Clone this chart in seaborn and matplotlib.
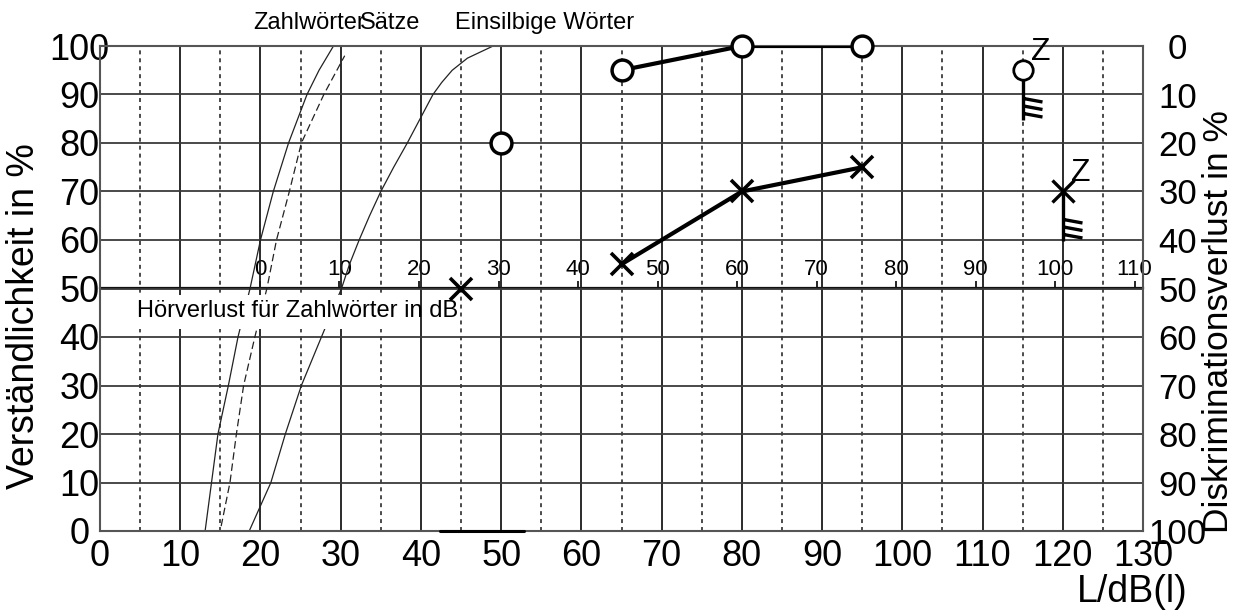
import numpy as np
import matplotlib
matplotlib.use("Agg")
import matplotlib.pyplot as plt
from matplotlib.path import Path
import pandas as pd
import seaborn as sns

# normal-hearing reference curves: level in dB vs. intelligibility in %
zahl_pct = [0, 10, 20, 30, 40, 50, 60, 70, 80, 90, 95, 100]
zahl_db = [13.1, 13.9, 14.7, 16.0, 17.2, 18.7, 20.0, 21.6, 23.5, 25.8, 27.3, 29.1]
saetze_pct = [1, 10, 20, 30, 40, 50, 60, 70, 80, 90, 98]
saetze_db = [15.1, 16.2, 17.0, 17.9, 19.3, 20.8, 22.0, 23.6, 25.1, 27.9, 30.5]
einsilb_pct = [0, 10, 20, 30, 40, 50, 55, 60, 65, 70, 75, 80, 85, 90, 92.5, 95, 97.5, 100]
einsilb_db = [18.6, 21.3, 23.1, 25.1, 27.6, 30.1, 31.1, 32.3, 33.6, 35.0, 36.6, 38.3,
              39.9, 41.5, 42.6, 43.9, 45.8, 49.0]

# patient results
circle_db = [65, 80, 95]
circle_pct = [95, 100, 100]
circle_single_db = [50]
circle_single_pct = [80]
cross_db = [65, 80, 95]
cross_pct = [55, 70, 75]
cross_single_db = [45]
cross_single_pct = [50]
masked_circle_db = [115]
masked_circle_pct = [95]
masked_cross_db = [120]
masked_cross_pct = [70]
base_bar_db = [42.4, 52.9]
base_bar_pct = [0, 0]

# hearing-loss scale for numbers (Zahlwörter), drawn along the 50 % line
hl_ticks = list(range(0, 111, 10))
HL_ZERO_DB = 19.94
HL_SCALE = 0.991

x_major = list(range(0, 131, 10))
x_minor = list(range(5, 130, 10))
y_ticks = list(range(0, 101, 10))


def db_to_hl(x):
    return (np.asarray(x) - HL_ZERO_DB) / HL_SCALE


def hl_to_db(h):
    return np.asarray(h) * HL_SCALE + HL_ZERO_DB


def masking_marker():
    # stem pointing down with three short slanted strokes (masking flag)
    verts = [(0, 0), (0, -1)]
    codes = [Path.MOVETO, Path.LINETO]
    for a in (0.56, 0.71, 0.86):
        verts += [(0, -a), (0.38, -a - 0.07)]
        codes += [Path.MOVETO, Path.LINETO]
    return Path(verts, codes)


sns.set_theme(style="white")
plt.rcParams["font.family"] = ["Liberation Sans", "DejaVu Sans"]
plt.rcParams["text.color"] = "black"
plt.rcParams["xtick.color"] = "black"
plt.rcParams["ytick.color"] = "black"

fig, ax = plt.subplots(figsize=(12.35, 6.12), dpi=100)
fig.subplots_adjust(left=100 / 1235, right=1143 / 1235, top=1 - 46 / 612, bottom=1 - 531 / 612)

ax.set_xlim(0, 130)
ax.set_ylim(0, 100)
ax.set_xticks(x_major)
ax.set_xticks(x_minor, minor=True)
ax.set_yticks(y_ticks)
ax.grid(which="major", axis="x", color="#1a1a1a", lw=1.3, ls="-")
ax.grid(which="minor", axis="x", color="#1a1a1a", lw=1.1, ls=(0, (2.6, 2.6)))
ax.grid(which="major", axis="y", color="#3a3a3a", lw=1.3, ls="-")
ax.tick_params(axis="both", which="both", length=0)
ax.tick_params(axis="x", labelsize=26, pad=6)
ax.tick_params(axis="y", labelsize=26, pad=15)
for lab in ax.get_yticklabels():
    lab.set_horizontalalignment("center")
for sp in ax.spines.values():
    sp.set_color("#555555")
    sp.set_linewidth(1.5)

curves = pd.concat([
    pd.DataFrame({"dB": zahl_db, "pct": zahl_pct, "Test": "Zahlwörter"}),
    pd.DataFrame({"dB": saetze_db, "pct": saetze_pct, "Test": "Sätze"}),
    pd.DataFrame({"dB": einsilb_db, "pct": einsilb_pct, "Test": "Einsilbige Wörter"}),
])
sns.lineplot(
    data=curves, x="dB", y="pct", hue="Test", style="Test",
    hue_order=["Zahlwörter", "Sätze", "Einsilbige Wörter"],
    palette=["#222222"] * 3,
    dashes=[(1, 0), (6, 3), (1, 0)],
    sort=False, estimator=None, lw=0.9, legend=False, ax=ax,
)

# white backdrop behind the hearing-loss label
mask_x = [0.2, 39.6]
ax.fill_between(mask_x, 41.6, 48.7, color="white", lw=0, zorder=2.2)
ax.text(4.6, 45.4, "Hörverlust für Zahlwörter in dB", fontsize=17,
        ha="left", va="center", zorder=2.4)

sec = ax.secondary_xaxis(0.5, functions=(db_to_hl, hl_to_db))
sec.set_xticks(hl_ticks)
sec.tick_params(direction="out", length=5, width=1.2, labelsize=16, pad=1, colors="black")
sec.spines["top"].set_linewidth(1.6)
sec.spines["top"].set_color("#111111")

# patient data
sns.lineplot(x=circle_db, y=circle_pct, color="black", lw=3.0, sort=False, ax=ax, zorder=4)
sns.lineplot(x=cross_db, y=cross_pct, color="black", lw=3.0, sort=False, ax=ax, zorder=4)
ax.plot(circle_db + circle_single_db, circle_pct + circle_single_pct, ls="none", marker="o",
        ms=15, mfc="white", mec="black", mew=2.5, zorder=6, clip_on=False)
ax.plot(cross_db + cross_single_db, cross_pct + cross_single_pct, ls="none", marker="x",
        ms=16, mec="black", mew=2.6, zorder=6, clip_on=False)

# masked measurements
ax.plot(masked_circle_db + masked_cross_db, masked_circle_pct + masked_cross_pct, ls="none",
        marker=masking_marker(), ms=72, mfc="none", mec="black", mew=2.4, zorder=5)
ax.plot(masked_circle_db, masked_circle_pct, ls="none", marker="o", ms=14,
        mfc="white", mec="black", mew=2.0, zorder=6)
ax.plot(masked_cross_db, masked_cross_pct, ls="none", marker="x", ms=16,
        mec="black", mew=2.4, zorder=6)
for xd, yd in zip(masked_circle_db + masked_cross_db, masked_circle_pct + masked_cross_pct):
    ax.annotate("Z", (xd, yd), xytext=(13, 13), textcoords="offset points",
                fontsize=23, ha="center", va="center", zorder=7)

ax.plot(base_bar_db, base_bar_pct, color="black", lw=2.2, clip_on=False, zorder=5)

# curve names above the frame
ax.text(19.07, 104.7, "Zahlwörter", fontsize=17, ha="left", va="center", clip_on=False)
ax.text(32.4, 104.7, "Sätze", fontsize=17, ha="left", va="center", clip_on=False)
ax.text(44.25, 104.7, "Einsilbige Wörter", fontsize=17, ha="left", va="center", clip_on=False)

ax2 = ax.twinx()
ax2.set_ylim(100, 0)
ax2.set_yticks(y_ticks)
ax2.tick_params(axis="y", length=0, labelsize=25, pad=25)
for lab in ax2.get_yticklabels():
    lab.set_horizontalalignment("center")
for sp in ax2.spines.values():
    sp.set_visible(False)
ax2.grid(False)

ax.set_xlabel("")
ax.set_ylabel("")
fig.text(24 / 1235, 1 - 316 / 612, "Verständlichkeit in %", rotation=90,
         fontsize=27, ha="center", va="center")
fig.text(1219 / 1235, 1 - 322 / 612, "Diskriminationsverlust in %", rotation=90,
         fontsize=25.5, ha="center", va="center")
fig.text(1132 / 1235, 1 - 592 / 612, "L/dB(l)", fontsize=27, ha="center", va="center")

fig.savefig("out.png", dpi=100, facecolor="white")
